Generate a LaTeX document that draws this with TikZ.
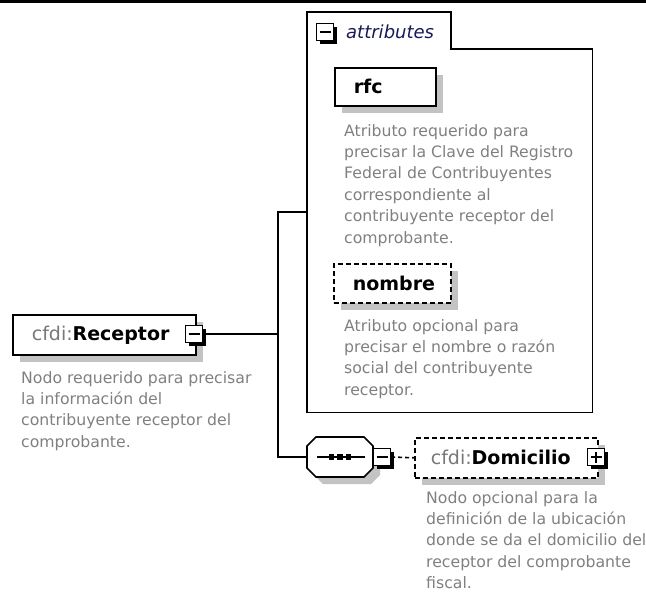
\documentclass[tikz,border=0pt]{standalone}
\usepackage{fontspec}
\setmainfont{DejaVu Sans}
\usetikzlibrary{shadows}
\definecolor{shadowgray}{RGB}{195,195,195}
\definecolor{desccol}{RGB}{128,128,128}
\definecolor{prefixcol}{RGB}{120,120,120}
\definecolor{attrblue}{RGB}{25,25,90}
\tikzset{
  elbox/.style={draw=black, line width=1.6pt, fill=white, anchor=north west,
    inner xsep=19pt, inner ysep=0pt, align=left, font=\fontsize{19}{22}\selectfont,
    general shadow={fill=shadowgray, shadow xshift=7pt, shadow yshift=-7pt}},
  optbox/.style={elbox, dash pattern=on 5pt off 3pt},
  expander/.style={draw=black, line width=1.3pt, fill=white, minimum size=17pt,
    inner sep=0pt, general shadow={fill=black, shadow xshift=3pt, shadow yshift=-3pt}},
  minusbox/.style={expander, path picture={\draw[line width=1.3pt]
    ([xshift=3pt]path picture bounding box.west) -- ([xshift=-3pt]path picture bounding box.east);}},
  plusbox/.style={expander, path picture={\draw[line width=1.3pt]
    ([xshift=3pt]path picture bounding box.west) -- ([xshift=-3pt]path picture bounding box.east)
    ([yshift=-3pt]path picture bounding box.north) -- ([yshift=3pt]path picture bounding box.south);}},
  descr/.style={anchor=north west, inner sep=0pt, align=left, text=desccol,
    font=\fontsize{15.7}{21.4}\selectfont},
  conn/.style={draw=black, line width=1.6pt},
  dconn/.style={draw=black, line width=1.6pt, dash pattern=on 4pt off 3pt},
  frame/.style={draw=black, line width=1.6pt},
}
\begin{document}
\begin{tikzpicture}[x=1pt,y=-1pt]
\useasboundingbox (0,0) rectangle (646,595);
\fill[black] (0,0) rectangle (646,2.7);

% attributes frame
\node[minimum width=285pt, minimum height=400pt, inner sep=0pt, anchor=north west] (attrs) at (307,12) {};
\draw[frame] (attrs.south west) -- (attrs.north west) -- (451,12) -- (451,49)
  -- (attrs.north east |- 0,49) -- (attrs.south east) -- cycle;
\node[minusbox] (attrX) at (325,32) {};
\node[anchor=base west, inner sep=0pt, text=attrblue, font=\itshape\fontsize{18}{21}\selectfont] (attrT) at (346,38) {attributes};

% rfc
\node[elbox, text width=63pt, minimum height=38pt] (rfc) at (334,67) {\textbf{rfc}};
\node[descr] (rfcD) at (344,121) {\strut Atributo requerido para\\precisar la Clave del Registro\\Federal de Contribuyentes\\correspondiente al\\contribuyente receptor del\\comprobante.};

% nombre
\node[optbox, text width=79pt, minimum height=39pt] (nom) at (333,263) {\textbf{nombre}};
\node[descr] (nomD) at (344,316) {\strut Atributo opcional para\\precisar el nombre o razón\\social del contribuyente\\receptor.};

% Receptor
\node[elbox, text width=145pt, minimum height=40pt] (rec) at (12,314) {{\color{prefixcol}cfdi:}\textbf{Receptor}};
\node[minusbox] (recX) at (194,334) {};
\node[descr] (recD) at (21,368) {\strut Nodo requerido para precisar\\la información del\\contribuyente receptor del\\comprobante.};

% sequence
\node[minimum width=66pt, minimum height=40pt, inner sep=0pt] (seq) at (340,457) {};
\fill[shadowgray] (323,444) -- (371,444) -- (380,453) -- (380,475) -- (371,484) -- (323,484) -- (314,475) -- (314,453) -- cycle;
\draw[frame, fill=white] (316,437) -- (364,437) -- (373,446) -- (373,468) -- (364,477) -- (316,477) -- (307,468) -- (307,446) -- cycle;
\draw[line width=1.2pt] (317,457) -- (365,457);
\foreach \dx in {331.5,340,348.5} \fill[black] (\dx-2.6,454.4) rectangle (\dx+2.6,459.6);
\node[minusbox] (seqX) at (382,457) {};

% Domicilio
\node[optbox, minimum height=40pt, inner xsep=16pt, text width=151pt] (dom) at (414,437) {{\color{prefixcol}cfdi:}\textbf{Domicilio}};
\node[plusbox] (domX) at (596,457) {};
\node[descr] (domD) at (426,488) {\strut Nodo opcional para la\\definición de la ubicación\\donde se da el domicilio del\\receptor del comprobante\\fiscal.};

% connectors
\coordinate (j) at (278,334);
\draw[conn] (recX.east) -- (j) |- (attrs.west);
\draw[conn] (j) |- (seq.west);
\draw[dconn] (seqX.east) -- (dom.west);
\end{tikzpicture}
\end{document}
